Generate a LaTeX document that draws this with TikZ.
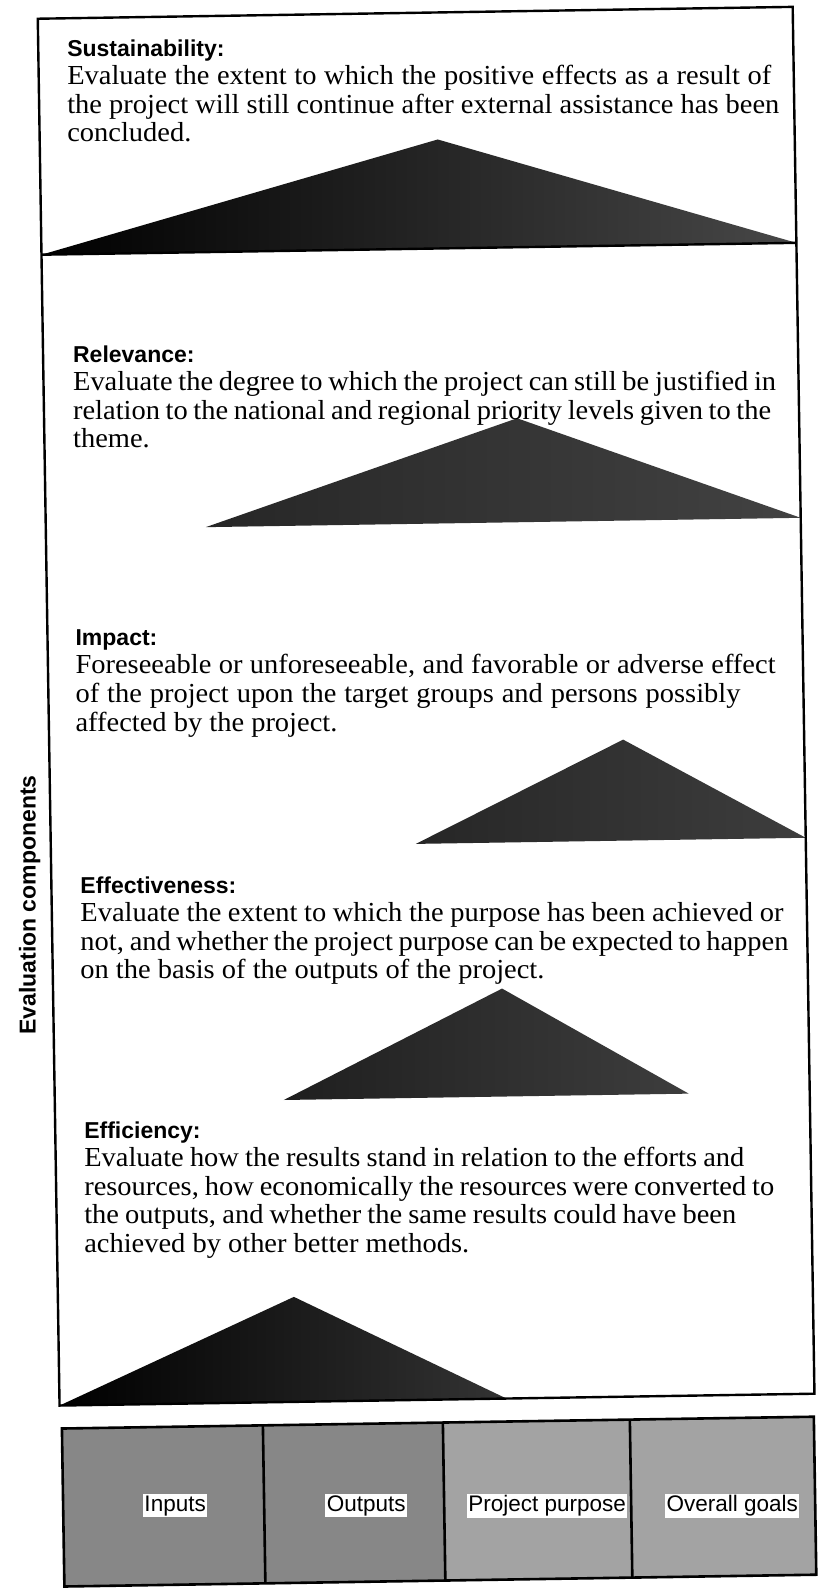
\documentclass[tikz,border=0pt]{standalone}
\usepackage{fontspec}
\setmainfont{Liberation Serif}[FakeStretch=1.035]
\setsansfont{Liberation Sans}
\newcommand{\jline}[2]{\makebox[#1pt][s]{#2}}
\newcommand{\hdtext}[1]{{\sffamily\bfseries\fontsize{23}{23}\selectfont #1}}
\begin{document}
\begin{tikzpicture}[x=1pt,y=-1pt,
  frame/.style={draw=black,line width=2.4pt},
  sect/.style={anchor=north west,inner sep=0pt,align=left,
    font=\fontsize{27.5}{28.6}\selectfont},
  tri/.style={draw=none},
  cell/.style={draw=black,line width=2.6pt},
  lab/.style={fill=white,inner sep=1.5pt,font=\sffamily\fontsize{22.5}{22.5}\selectfont}
]
\useasboundingbox (0,0) rectangle (817,1589);
\fill[white] (0,0) rectangle (817,1589);
\begin{scope}[rotate around={0.9:(408.5,794.5)}]
  % triangles
  \shade[tri,left color=black,right color=black!72] (50,249) -- (448,140) -- (805,249) -- cycle;
  \shade[tri,left color=black!85,right color=black!74] (210,524) -- (523,420) -- (805,524) -- cycle;
  \shade[tri,left color=black!85,right color=black!76] (415,844) -- (624,743) -- (805,844) -- cycle;
  \shade[tri,left color=black!88,right color=black!76] (279,1098) -- (499,990) -- (684,1098) -- cycle;
  \shade[tri,left color=black,right color=black!80] (50,1400) -- (286,1295) -- (497,1400) -- cycle;
  % main frame
  \draw[frame] (50,13) rectangle (805,1400);
  \draw[frame] (50,249) -- (805,249);
  % texts
  \node[sect] (sus) at (79,34) {\hdtext{Sustainability:}\\
    \jline{704}{Evaluate the extent to which the positive effects as a result of}\\
    \jline{712}{the project will still continue after external assistance has been}\\
    concluded.};
  \node[sect] (rel) at (80,340) {\hdtext{Relevance:}\\
    \jline{703}{Evaluate the degree to which the project can still be justified in}\\
    \jline{698}{relation to the national and regional priority levels given to the}\\
    theme.};
  \node[sect] (imp) at (78,624) {\hdtext{Impact:}\\
    \jline{700}{Foreseeable or unforeseeable, and favorable or adverse effect}\\
    \jline{665}{of the project upon the target groups and persons possibly}\\
    affected by the project.};
  \node[sect] (eff) at (79,871) {\hdtext{Effectiveness:}\\
    \jline{703}{Evaluate the extent to which the purpose has been achieved or}\\
    \jline{708}{not, and whether the project purpose can be expected to happen}\\
    on the basis of the outputs of the project.};
  \node[sect] (efc) at (79,1116) {\hdtext{Efficiency:}\\
    \jline{660}{Evaluate how the results stand in relation to the efforts and}\\
    \jline{690}{resources, how economically the resources were converted to}\\
    \jline{652}{the outputs, and whether the same results could have been}\\
    achieved by other better methods.};
  \node[rotate=90,font=\sffamily\bfseries\fontsize{23}{23}\selectfont] (evc) at (28,899) {Evaluation components};
  % bottom cells
  \fill[black!47] (52,1423) rectangle (433,1581);
  \fill[black!36] (433,1423) rectangle (804,1581);
  \draw[cell] (52,1423) rectangle (804,1581);
  \draw[cell] (253,1423) -- (253,1581);
  \draw[cell] (433,1423) -- (433,1581);
  \draw[cell] (620,1423) -- (620,1581);
  \node[lab] (inp) at (164,1502) {Inputs};
  \node[lab] (out) at (355,1505) {Outputs};
  \node[lab] (pp) at (536,1508) {Project purpose};
  \node[lab] (og) at (721,1511) {Overall goals};
\end{scope}
\end{tikzpicture}
\end{document}
